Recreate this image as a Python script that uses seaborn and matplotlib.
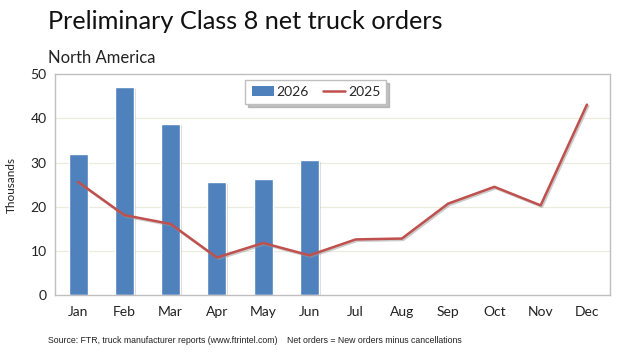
import matplotlib
matplotlib.use("Agg")
import matplotlib.pyplot as plt
import matplotlib.patheffects as pe
from matplotlib.lines import Line2D
from matplotlib.patches import Patch
import seaborn as sns
import numpy as np
import pandas as pd

months = ["Jan", "Feb", "Mar", "Apr", "May", "Jun", "Jul", "Aug", "Sep", "Oct", "Nov", "Dec"]
orders_2026 = [32.0, 47.1, 38.8, 25.6, 26.3, 30.5, np.nan, np.nan, np.nan, np.nan, np.nan, np.nan]
orders_2025 = [25.6, 18.1, 16.1, 8.5, 11.8, 9.0, 12.6, 12.8, 20.7, 24.5, 20.3, 43.1]
yticks = [0, 10, 20, 30, 40, 50]

BLUE = "#4F81BD"
RED = "#C0504D"

sns.set_theme(style="white")
plt.rcParams['font.family'] = ['Lato', 'DejaVu Sans']

df = pd.DataFrame({"month": months, "y2026": orders_2026, "y2025": orders_2025})

fig = plt.figure(figsize=(6.3, 3.53), dpi=100)
ax = fig.add_axes([0.0873, 0.164, 0.881, 0.626])

sns.barplot(data=df, x="month", y="y2026", order=months, color=BLUE,
            width=0.41, saturation=1, ax=ax, errorbar=None)
for p in ax.patches:
    p.set_path_effects([pe.SimplePatchShadow(offset=(1.2, -1.2), shadow_rgbFace="#999999", alpha=0.4), pe.Normal()])

sns.pointplot(data=df, x="month", y="y2025", order=months, color=RED,
              markers="", linestyles="-", errorbar=None, ax=ax)
for ln in ax.lines:
    ln.set_linewidth(1.8)
    ln.set_path_effects([pe.SimpleLineShadow(offset=(1, -1), shadow_color="#999999", alpha=0.5), pe.Normal()])

ax.set_ylim(0, 50)
ax.set_xlim(-0.5, 11.5)
ax.set_yticks(yticks)
ax.set_yticklabels([str(v) for v in yticks], fontsize=10, color="#222222")
ax.tick_params(axis="x", labelsize=10, colors="#222222", length=0, pad=8)
ax.tick_params(axis="y", length=0, pad=6)
for v in yticks[1:-1]:
    ax.axhline(v, color="#EDEBDD", linewidth=0.9, zorder=0)
ax.set_axisbelow(True)
for s in ax.spines.values():
    s.set_color("#BFBFBF")
    s.set_linewidth(1.0)
ax.set_xlabel("")
ax.set_ylabel("Thousands", fontsize=8.5, color="#222222", labelpad=10)

handles = [Patch(facecolor=BLUE, edgecolor="none"),
           Line2D([0], [0], color=RED, linewidth=1.8)]
leg = ax.legend(handles, ["2026", "2025"], ncol=2, loc="upper center",
                bbox_to_anchor=(0.47, 1.005), frameon=True, fancybox=False,
                shadow={"color": "#999999", "alpha": 0.6, "ox": 2, "oy": -2}, edgecolor="#BFBFBF", fontsize=10,
                handlelength=1.6, handletextpad=0.2, columnspacing=1.0,
                borderpad=0.45, framealpha=1)
leg.get_frame().set_linewidth(1.0)

fig.text(0.076, 0.938, "Preliminary Class 8 net truck orders", fontsize=18.2, color="#111111", va="center", ha="left")
fig.text(0.076, 0.836, "North America", fontsize=12, color="#222222", va="center", ha="left")
fig.text(0.076, 0.035, "Source: FTR, truck manufacturer reports (www.ftrintel.com)    Net orders = New orders minus cancellations",
         fontsize=6.3, color="#222222", va="center", ha="left", family=["Liberation Sans", "DejaVu Sans"])

fig.savefig("out.png", dpi=100)
